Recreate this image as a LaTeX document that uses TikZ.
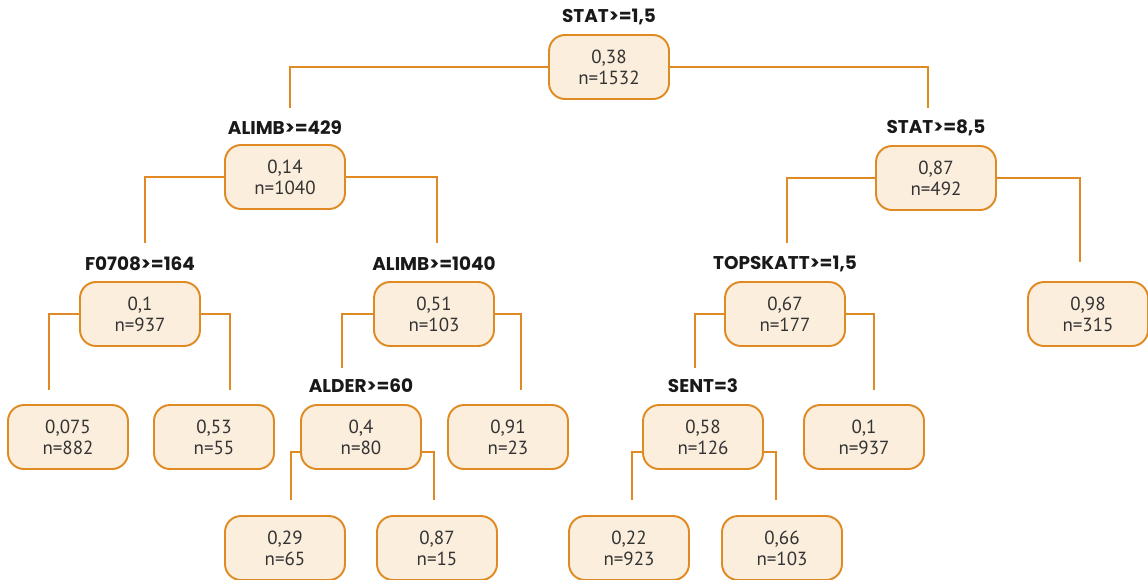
\documentclass[tikz,border=0pt]{standalone}
\usepackage{fontspec}
\setmainfont{PT Sans}
\newfontfamily\splitfont{Poppins}
\definecolor{treeorange}{HTML}{E08A24}
\definecolor{treefill}{HTML}{FBEEDD}
\definecolor{treetext}{HTML}{333333}

\begin{document}
\begin{tikzpicture}[
  x=0.02cm, y=-0.02cm,
  every node/.style={font=\fontsize{10.8}{12}\selectfont, text=treetext},
  leaf/.style={draw=treeorange, fill=treefill, line width=1.1pt,
    rounded corners=0.32cm, minimum width=2.4cm, minimum height=1.28cm,
    align=center, inner sep=0pt},
  split/.style={font=\splitfont\bfseries\fontsize{10.5}{12}\selectfont, text=black!90},
  link/.style={draw=treeorange, line width=1.1pt}
]
\useasboundingbox (0,0) rectangle (1148,579);

% beslutningstreet
\node[leaf] (root) at (609,67) {0,38\\n=1532};
\node[split] (root lbl) at (609,17) {STAT>=1,5};

\node[leaf] (alimbA) at (285,177) {0,14\\n=1040};
\node[split] (alimbA lbl) at (285,128) {ALIMB>=429};
\node[leaf] (statB) at (936,178) {0,87\\n=492};
\node[split] (statB lbl) at (936,128) {STAT>=8,5};

\node[leaf] (f0708) at (140,314) {0,1\\n=937};
\node[split] (f0708 lbl) at (140,264) {F0708>=164};
\node[leaf] (alimbC) at (434,314) {0,51\\n=103};
\node[split] (alimbC lbl) at (434,264) {ALIMB>=1040};
\node[leaf] (topskatt) at (785,314) {0,67\\n=177};
\node[split] (topskatt lbl) at (785,264) {TOPSKATT>=1,5};
\node[leaf] (leafA) at (1088,314) {0,98\\n=315};

\node[leaf] (leafB) at (68,437) {0,075\\n=882};
\node[leaf] (leafC) at (214,437) {0,53\\n=55};
\node[leaf] (alder) at (361,437) {0,4\\n=80};
\node[split] (alder lbl) at (361,386) {ALDER>=60};
\node[leaf] (leafD) at (508,437) {0,91\\n=23};
\node[leaf] (sent) at (703,437) {0,58\\n=126};
\node[split] (sent lbl) at (703,386) {SENT=3};
\node[leaf] (leafE) at (864,437) {0,1\\n=937};

\node[leaf] (leafF) at (285,548) {0,29\\n=65};
\node[leaf] (leafG) at (437,548) {0,87\\n=15};
\node[leaf] (leafH) at (629,548) {0,22\\n=923};
\node[leaf] (leafI) at (782,548) {0,66\\n=103};

% forgreninger: fra boksens side og ned mot barnet
\foreach \n/\s/\xl/\yl/\xr/\yr in {
    root/0pt/290/108/928/108,
    alimbA/0pt/145/243/437/243,
    statB/0pt/787/243/1080/262,
    f0708/0pt/49/390/230/390,
    alimbC/0pt/342/368/521/390,
    topskatt/0pt/695/368/874/390,
    alder/-0.3cm/291/500/434/500,
    sent/-0.3cm/632/500/776/500} {
  \coordinate (\n-l) at (\xl,\yl);
  \coordinate (\n-r) at (\xr,\yr);
  \draw[link] ([yshift=\s]\n.west) -| (\n-l);
  \draw[link] ([yshift=\s]\n.east) -| (\n-r);
}

\end{tikzpicture}
\end{document}
